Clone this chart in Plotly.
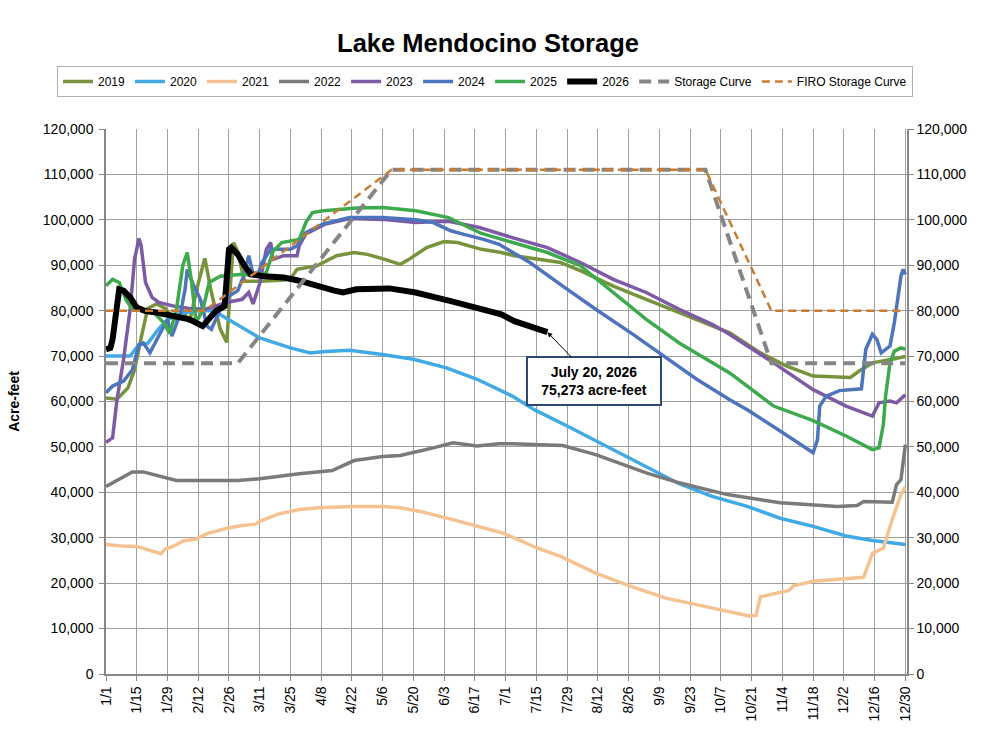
import plotly.graph_objects as go

YEAR_BASE = "2024"  # leap-year calendar used for the month/day axis

# ---------------- data (acre-feet) ----------------
d2019 = ["01-01","01-06","01-11","01-14","01-17","01-20","01-24","01-28","02-01","02-05","02-08","02-12","02-15","02-18","02-22","02-25","02-27","02-28","03-01","03-04","03-11","03-21","03-25","03-28","04-06","04-15","04-23","04-29","05-07","05-14","05-18","05-26","06-03","06-09","06-20","06-29","07-05","07-19","07-26","08-04","08-19","09-03","09-18","10-03","10-11","10-25","11-06","11-18","12-05","12-09","12-15","12-24","12-30"]
v2019 = [60800,60500,63000,67000,74000,80500,81500,80500,78000,80000,77500,86000,91500,84000,76000,73000,88000,95000,93000,86500,86500,86700,87000,89100,89900,92100,92800,92400,91300,90200,91300,93900,95200,95000,93500,92800,92100,91000,90600,88800,85400,82500,79500,76600,75100,70700,67800,65600,65300,66700,68500,69300,69900]

d2020 = ["01-01","01-12","01-16","01-20","01-25","01-29","02-05","02-12","02-19","02-26","03-04","03-11","03-25","04-03","04-10","04-21","05-05","05-20","06-04","06-18","07-04","07-14","07-29","08-10","08-25","09-09","09-18","10-03","10-19","11-03","11-18","12-03","12-15","12-30"]
v2020 = [70000,70000,72500,72800,76000,78000,79500,80000,80000,78000,76000,74000,71800,70700,71000,71300,70400,69300,67400,64900,61200,58200,54600,51600,47900,44300,41900,39100,36900,34300,32500,30400,29400,28500]

d2021 = ["01-01","01-08","01-15","01-21","01-26","01-28","02-01","02-05","02-11","02-16","02-25","03-03","03-09","03-11","03-20","03-29","04-07","04-22","05-06","05-14","05-23","06-06","06-19","06-30","07-15","07-26","08-11","08-27","09-12","10-07","10-20","10-23","10-25","11-07","11-09","11-18","12-11","12-15","12-20","12-24","12-28","12-30"]
v2021 = [28500,28200,28100,27200,26500,27500,28200,29300,29700,30900,32100,32700,33000,33600,35300,36200,36600,36900,36900,36600,35800,34100,32500,31000,27800,25900,22200,19300,16700,14100,12800,12900,17000,18400,19400,20400,21300,26600,27700,34000,39500,41200]

d2022 = ["01-01","01-09","01-13","01-18","01-26","02-02","02-13","03-01","03-11","03-29","04-13","04-17","04-23","05-06","05-14","05-29","06-07","06-18","06-28","07-04","07-27","08-11","09-03","09-18","10-10","11-03","11-29","12-08","12-11","12-24","12-26","12-28","12-30"]
v2022 = [41300,43500,44500,44500,43500,42600,42600,42600,43000,44100,44800,45600,47000,47900,48100,49800,50900,50200,50700,50700,50300,48300,44300,42100,39500,37700,36900,37100,38000,37800,41700,42800,50500]

d2023 = ["01-01","01-04","01-06","01-09","01-12","01-14","01-16","01-17","01-19","01-22","01-25","02-01","02-08","02-15","02-25","03-03","03-06","03-08","03-11","03-14","03-16","03-17","03-22","03-28","03-29","04-01","04-10","04-21","05-06","05-21","06-05","06-19","07-04","07-20","08-04","08-19","09-03","09-18","10-03","10-10","10-31","11-18","12-03","12-15","12-18","12-23","12-26","12-30"]
v2023 = [51000,52000,60400,69300,80300,91300,95900,94300,86200,82900,81800,81000,80500,80300,81800,82500,84000,81500,86000,93500,95000,91300,92100,92100,94300,96900,99100,100300,100100,99400,99700,98300,96100,93900,90600,86900,84000,80300,77000,75100,68500,62600,59000,56800,59700,60100,59700,61500]

d2024 = ["01-01","01-04","01-09","01-13","01-16","01-18","01-21","01-26","01-29","01-31","02-04","02-06","02-07","02-10","02-13","02-16","02-18","02-22","02-26","03-01","03-04","03-06","03-08","03-10","03-12","03-16","03-25","03-28","04-01","04-09","04-21","05-06","05-21","05-29","06-06","06-12","06-21","06-28","07-12","07-27","08-11","08-27","09-11","09-26","10-11","10-19","11-03","11-18","11-20","11-21","11-24","11-30","12-10","12-12","12-15","12-17","12-19","12-23","12-25","12-28","12-29","12-30"]
v2024 = [61900,63400,64500,67000,72500,72900,70700,75100,78100,74400,79600,84700,89100,85400,82500,76600,75900,80300,83200,84400,88000,92100,88000,87600,90600,93500,93500,94300,97200,99100,100500,100500,100000,99400,97600,96800,95700,94600,90600,85400,80300,75100,70000,64900,60400,58200,53500,48700,51600,59000,61200,62400,62800,71500,74800,73700,70700,72200,77400,87600,89100,88000]

d2025 = ["01-01","01-04","01-07","01-10","01-13","01-18","01-23","01-27","01-30","02-02","02-05","02-07","02-09","02-11","02-14","02-17","02-22","03-03","03-10","03-14","03-17","03-21","03-29","04-01","04-04","04-09","04-24","05-06","05-21","06-05","06-20","07-04","07-20","08-04","08-19","09-03","09-18","10-03","10-11","10-31","11-18","12-03","12-15","12-18","12-20","12-21","12-23","12-25","12-28","12-30"]
v2025 = [85500,86900,86200,82500,80300,80000,79500,77500,75000,80000,90000,92800,86200,77400,80000,86200,87600,88000,87600,88400,93000,95000,95700,99400,101600,102000,102600,102700,102000,100500,97000,95000,92800,89900,84000,78100,72900,68500,66300,59000,55800,52400,49400,49800,55000,61200,68500,71100,71800,71500]

d2026 = ["01-01","01-03","01-04","01-06","01-07","01-09","01-12","01-15","01-19","01-24","02-02","02-08","02-14","02-17","02-20","02-24","02-26","02-27","03-01","03-04","03-07","03-13","03-22","03-29","04-06","04-14","04-18","04-24","05-09","05-21","06-06","06-21","06-29","07-05","07-14","07-20"]
v2026 = [71500,71800,73700,82500,84700,84400,82900,80700,79900,79600,78500,78100,76600,78100,79900,81000,93500,93900,92400,89900,88000,87600,87300,86600,85400,84400,84000,84700,84900,84000,82100,80300,79200,77700,76200,75273]

d_storage = ["01-01","03-01","05-10","09-30","10-30","12-30"]
v_storage = [68400,68400,111000,111000,68400,68400]

d_firo = ["01-01","02-15","05-10","09-30","10-30","12-30"]
v_firo = [80000,80000,111000,111000,80000,80000]

last_label = ["July 20, 2026", "75,273 acre-feet"]

# ---------------- styling ----------------
series = [
    ("2019", d2019, v2019, "#77933C", 3.5, "solid"),
    ("2020", d2020, v2020, "#41A9E6", 3.5, "solid"),
    ("2021", d2021, v2021, "#F5C292", 3.5, "solid"),
    ("2022", d2022, v2022, "#7A7A7A", 3.5, "solid"),
    ("2023", d2023, v2023, "#7D5AA5", 3.5, "solid"),
    ("2024", d2024, v2024, "#4D74BD", 3.5, "solid"),
    ("2025", d2025, v2025, "#3DAA4E", 3.5, "solid"),
    ("2026", d2026, v2026, "#000000", 6, "solid"),
    ("Storage Curve", d_storage, v_storage, "#858585", 4, "12px,7px"),
    ("FIRO Storage Curve", d_firo, v_firo, "#C97C33", 2.5, "8px,5px"),
]

def to_dates(md):
    return [f"{YEAR_BASE}-{s}" for s in md]

fig = go.Figure()
for name, d, v, color, width, dash in series:
    fig.add_trace(go.Scatter(
        x=to_dates(d), y=v, mode="lines", name=name,
        line=dict(color=color, width=width, dash=dash),
        hoverinfo="skip",
    ))

FONT = "Liberation Sans, Arial, sans-serif"
grid = "#A0A0A0"

fig.update_layout(
    width=1000, height=749,
    paper_bgcolor="white", plot_bgcolor="white",
    margin=dict(l=106, r=93, t=129, b=75, autoexpand=False),
    font=dict(family=FONT, size=14, color="#000000"),
    title=dict(text="<b>Lake Mendocino Storage</b>", x=0.488, xref="container",
               y=1 - 43 / 749, yref="container", xanchor="center", yanchor="middle",
               font=dict(size=25.5, family=FONT, color="#000000")),
    showlegend=True,
    legend=dict(orientation="h", x=-0.0612, xanchor="left", y=1.1156, yanchor="top",
                bordercolor="#B0B0B0", borderwidth=1, bgcolor="white",
                font=dict(size=12, family=FONT), itemwidth=30,
                tracegroupgap=0),
    xaxis=dict(
        type="date",
        range=[f"{YEAR_BASE}-01-01", f"{YEAR_BASE}-12-30 18:00"],
        tick0=f"{YEAR_BASE}-01-01", dtick=14 * 86400000,
        tickformat="%-m/%-d", tickangle=-90,
        showgrid=True, gridcolor=grid, gridwidth=1,
        showline=True, linecolor="#888888", linewidth=1.5,
        ticks="outside", ticklen=5, tickcolor="#888888",
        tickfont=dict(size=14), mirror=False, zeroline=False,
    ),
    yaxis=dict(
        range=[0, 120000], dtick=10000, tickformat=",",
        showgrid=True, gridcolor=grid, gridwidth=1,
        showline=True, linecolor="#888888", linewidth=1.5,
        ticks="outside", ticklen=5, tickcolor="#888888",
        tickfont=dict(size=14), zeroline=False, ticklabelstandoff=3,
        title=dict(text="<b>Acre-feet</b>", font=dict(size=14), standoff=20),
    ),
    yaxis2=dict(
        range=[0, 120000], dtick=10000, tickformat=",", overlaying="y", side="right",
        showgrid=False, showline=True, linecolor="#888888", linewidth=1.5,
        ticks="outside", ticklen=5, tickcolor="#888888",
        tickfont=dict(size=14), zeroline=False,
    ),
)

# invisible helper so the right axis renders
fig.add_trace(go.Scatter(x=[f"{YEAR_BASE}-01-01"], y=[0], yaxis="y2", mode="markers",
                         marker=dict(opacity=0), showlegend=False, hoverinfo="skip"))

fig.add_annotation(
    x=f"{YEAR_BASE}-{d2026[-1]}", y=v2026[-1], xref="x", yref="y",
    text="<b>" + last_label[0] + "</b><br><b>" + last_label[1] + "</b>",
    showarrow=True, arrowhead=2, arrowsize=1, arrowwidth=1, arrowcolor="#000000",
    ax=47, ay=49, font=dict(size=14, family=FONT, color="#000000"),
    bgcolor="white", bordercolor="#2E4A74", borderwidth=2, borderpad=4,
    width=124, height=38, align="center",
)

fig.write_html("out.html")
